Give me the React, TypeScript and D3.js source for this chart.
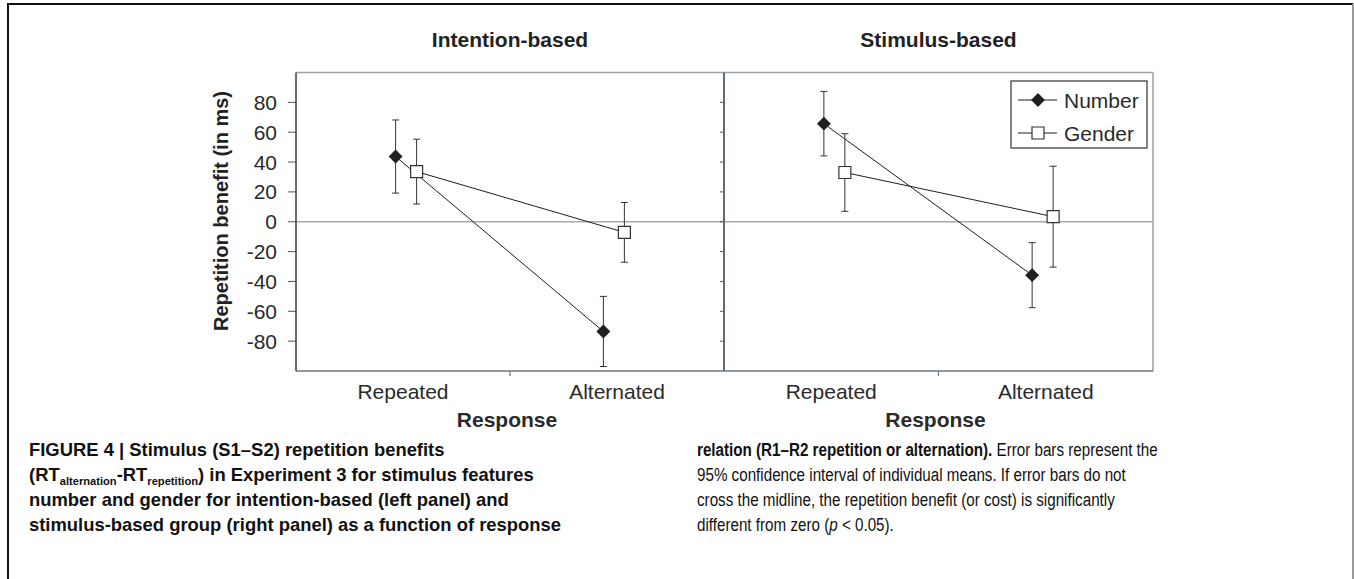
import React from 'react';
import * as d3 from 'd3';

const categories = ['Repeated', 'Alternated'];
const panelTitles = ['Intention-based', 'Stimulus-based'];
const seriesNames = ['Number', 'Gender'];
const yTicks = [-80, -60, -40, -20, 0, 20, 40, 60, 80];

// mean repetition benefit (ms)
const intentionNumber = [43.7, -73.5];
const intentionGender = [33.6, -7.1];
const stimulusNumber = [65.7, -35.8];
const stimulusGender = [33.0, 3.4];
// 95% CI half widths (ms)
const intentionNumberCI = [24.5, 23.5];
const intentionGenderCI = [21.7, 20.0];
const stimulusNumberCI = [21.6, 21.8];
const stimulusGenderCI = [26.0, 33.8];

const W = 1354;
const H = 579;
const top = 72.5;
const bottom = 371;
const font = '"Liberation Sans", Arial, Helvetica, sans-serif';

const y = d3.scaleLinear().domain([-100, 100]).range([bottom, top]);

const diamondPath = d3.symbol(d3.symbolSquare, 96)()!;
const squarePath = d3.symbol(d3.symbolSquare, 144)()!;

function Marker({ kind, x, y: yy }: any) {
  return kind === 'Number'
    ? <path d={diamondPath} transform={`translate(${x},${yy}) rotate(45)`} fill="#1f1f1f" />
    : <path d={squarePath} transform={`translate(${x},${yy})`} fill="#fff" stroke="#333" strokeWidth={1.2} />;
}

function Panel({ x0, x1, title, number, gender, numberCI, genderCI, first }: any) {
  const band = d3.scaleBand().domain(categories).range([x0, x1]);
  const pts = d3.scalePoint().domain(categories).range([x0, x1]).padding(0.53);
  const off = [-10.5, 10.5];
  const line = d3.line<number>()
    .x((_, i) => pts(categories[i])!)
    .y(d => y(d));

  const series = [
    { name: seriesNames[0], vals: number, ci: numberCI, dx: off[0] },
    { name: seriesNames[1], vals: gender, ci: genderCI, dx: off[1] },
  ];
  const mid = band('Alternated')!;
  const cx = (x0 + x1) / 2;

  return (
    <g>
      <text x={cx} y={46.7} textAnchor="middle" fontFamily={font} fontWeight="bold" fontSize={21} fill="#222">{title}</text>
      {/* frame */}
      <line x1={x0} x2={x1} y1={top} y2={top} stroke="#9aa2a7" strokeWidth={1.5} />
      {!first && <line x1={x1} x2={x1} y1={top} y2={bottom} stroke="#9aa2a7" strokeWidth={1.5} />}
      <line x1={x0} x2={x1} y1={y(0)} y2={y(0)} stroke="#a9a9a9" strokeWidth={1.5} />
      <line x1={x0} x2={x1} y1={bottom} y2={bottom} stroke="#6f767c" strokeWidth={1.5} />
      <line x1={mid} x2={mid} y1={bottom} y2={bottom + 5} stroke="#6f767c" strokeWidth={1.2} />
      {yTicks.map(t => (
        <g key={t}>
          <line x1={x0 - (first ? 8 : 4)} x2={x0} y1={y(t)} y2={y(t)} stroke="#555" strokeWidth={1} />
          {first && (
            <text x={x0 - 19} y={y(t)} dy="0.36em" textAnchor="end" fontFamily={font} fontSize={21} fill="#2a2a2a">{t}</text>
          )}
        </g>
      ))}
      <line x1={x0} x2={x0} y1={top} y2={bottom} stroke={first ? '#3c3c3c' : '#5e6c78'} strokeWidth={first ? 1.5 : 2} />
      {categories.map(c => (
        <text key={c} x={band(c)! + band.bandwidth() / 2} y={399} textAnchor="middle" fontFamily={font} fontSize={21} fill="#2a2a2a">{c}</text>
      ))}
      <text x={cx - 3} y={427} textAnchor="middle" fontFamily={font} fontWeight="bold" fontSize={21} fill="#2a2a2a">Response</text>

      {series.map(s => (
        <path key={s.name} d={line(s.vals)!} transform={`translate(${s.dx},0)`} fill="none" stroke="#1f1f1f" strokeWidth={1} />
      ))}
      {series.map(s => s.vals.map((v: number, i: number) => {
        const px = pts(categories[i])! + s.dx;
        const lo = y(v - s.ci[i]);
        const hi = y(v + s.ci[i]);
        return (
          <g key={s.name + i} stroke="#333" strokeWidth={1}>
            <line x1={px} x2={px} y1={lo} y2={hi} />
            <line x1={px - 3.5} x2={px + 3.5} y1={lo} y2={lo} />
            <line x1={px - 3.5} x2={px + 3.5} y1={hi} y2={hi} />
          </g>
        );
      }))}
      {series.map(s => s.vals.map((v: number, i: number) => (
        <Marker key={'m' + s.name + i} kind={s.name} x={pts(categories[i])! + s.dx} y={y(v)} />
      )))}
    </g>
  );
}

function Legend() {
  const rows = [100, 133];
  return (
    <g>
      <rect x={1011} y={81} width={136} height={67} fill="#fff" stroke="#333" strokeWidth={1.2} />
      {seriesNames.map((n, i) => (
        <g key={n}>
          <line x1={1018} x2={1057} y1={rows[i]} y2={rows[i]} stroke="#1f1f1f" strokeWidth={1} />
          <Marker kind={n} x={1038} y={rows[i]} />
          <text x={1064} y={rows[i]} dy="0.36em" fontFamily={font} fontSize={21} fill="#2a2a2a">{n}</text>
        </g>
      ))}
    </g>
  );
}

function Caption() {
  const lh = 25;
  const b0 = 456;
  const fs = 19;
  const sub = 11.5;
  return (
    <g fontFamily={font} fontSize={fs} fill="#111">
      <g fontWeight="bold" transform="translate(29,0) scale(0.97,1)">
        <text x={0} y={b0}>FIGURE 4 | Stimulus (S1–S2) repetition benefits</text>
        <text x={0} y={b0 + lh}>(RT<tspan fontSize={sub} dy={4}>alternation</tspan><tspan dy={-4}>-RT</tspan><tspan fontSize={sub} dy={4}>repetition</tspan><tspan dy={-4}>) in Experiment 3 for stimulus features</tspan></text>
        <text x={0} y={b0 + 2 * lh}>number and gender for intention-based (left panel) and</text>
        <text x={0} y={b0 + 3 * lh}>stimulus-based group (right panel) as a function of response</text>
      </g>
      <g transform="translate(697,0) scale(0.8,1)">
        <text x={0} y={b0}><tspan fontWeight="bold">relation (R1–R2 repetition or alternation).</tspan> Error bars represent the</text>
        <text x={0} y={b0 + lh}>95% confidence interval of individual means. If error bars do not</text>
        <text x={0} y={b0 + 2 * lh}>cross the midline, the repetition benefit (or cost) is significantly</text>
        <text x={0} y={b0 + 3 * lh}>different from zero (<tspan fontStyle="italic">p</tspan> {'<'} 0.05).</text>
      </g>
    </g>
  );
}

export default function App() {
  return (
    <svg width={W} height={H} style={{ position: 'absolute', left: 0, top: 0, background: '#fff' }}>
      <rect width={W} height={H} fill="#fff" />
      <path d={`M8,${H + 5} V4 H1353`} fill="none" stroke="#111" strokeWidth={2} />
      <line x1={1353} x2={1353} y1={4} y2={H + 5} stroke="#999" strokeWidth={2} />
      <Panel x0={296} x1={724} title={panelTitles[0]} number={intentionNumber} gender={intentionGender}
        numberCI={intentionNumberCI} genderCI={intentionGenderCI} first={true} />
      <Panel x0={724} x1={1153} title={panelTitles[1]} number={stimulusNumber} gender={stimulusGender}
        numberCI={stimulusNumberCI} genderCI={stimulusGenderCI} first={false} />
      <Legend />
      <text transform="translate(228,211) rotate(-90)" textAnchor="middle" fontFamily={font} fontWeight="bold" fontSize={20} fill="#222">Repetition benefit (in ms)</text>
      <Caption />
    </svg>
  );
}
